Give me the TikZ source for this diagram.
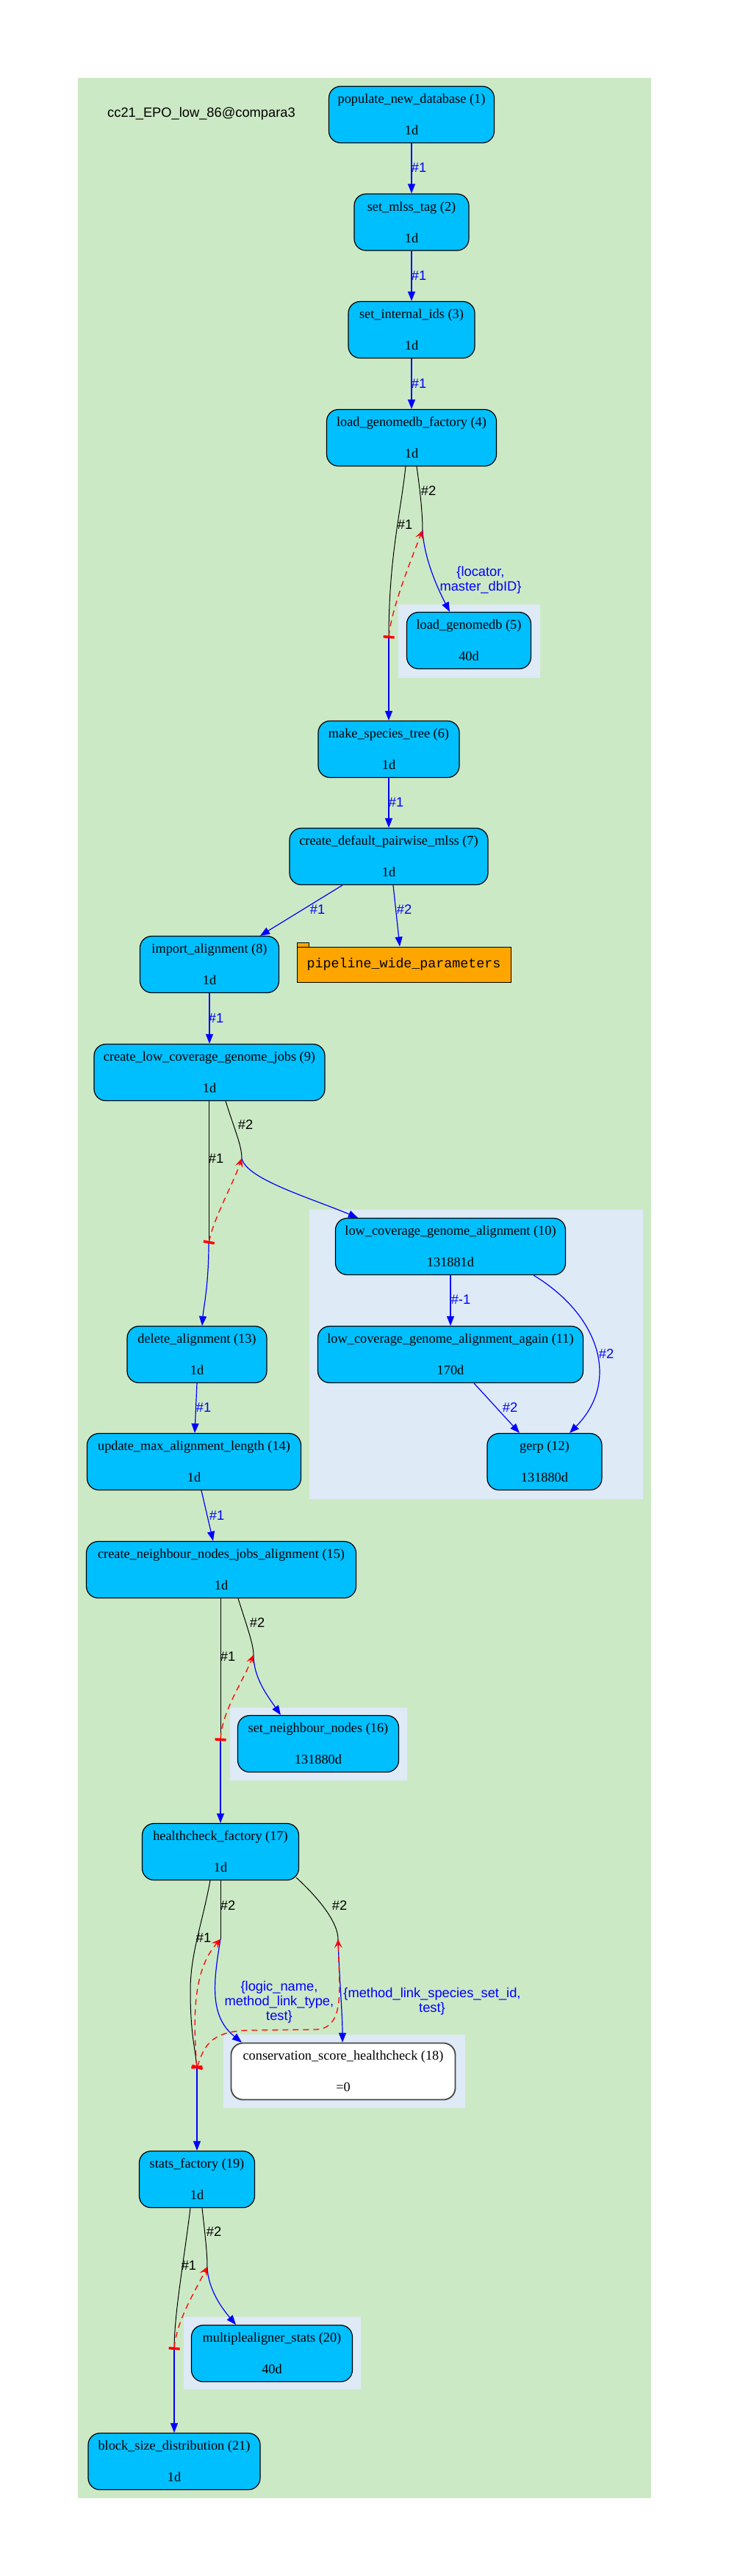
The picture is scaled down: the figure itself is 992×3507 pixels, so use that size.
\documentclass[tikz,border=0pt]{standalone}
\usepackage{fontspec}
\newfontfamily\serifjob{Liberation Serif}
\newfontfamily\sanslab{Liberation Sans}
\newfontfamily\monolab{Liberation Mono}
\usetikzlibrary{arrows.meta}
\newcommand{\jobfnt}{\serifjob\fontsize{18.3}{21.5}\selectfont}
\newcommand{\labfnt}{\sanslab\fontsize{18.3}{19.8}\selectfont}
\newcommand{\pwpfnt}{\monolab\fontsize{18.3}{21}\selectfont}
\definecolor{bggreen}{RGB}{204,233,197}
\definecolor{clblue}{RGB}{222,234,246}
\definecolor{jobblue}{RGB}{0,191,255}
\definecolor{pwporange}{RGB}{255,165,0}
\definecolor{hcborder}{RGB}{70,70,70}
\tikzset{
  job/.style={draw=black, line width=1.2pt, rounded corners=16pt, fill=jobblue,
    minimum height=77pt, inner sep=0pt, align=center, font=\jobfnt},
  jobwhite/.style={job, fill=white, draw=hcborder, line width=1.8pt},
  flow/.style={draw=blue, line width=1.2pt, -{Triangle[length=13pt,width=10pt]}},
  fanline/.style={draw=black, line width=1pt},
  sema/.style={draw=red, line width=1.3pt, dash pattern=on 8pt off 6pt,
    {Bar[width=15pt,line width=3.5pt]}-{Stealth[length=12pt,width=11pt,inset=5pt]}},
  blab/.style={text=blue, font=\labfnt, inner sep=0pt, align=center},
  klab/.style={text=black, font=\labfnt, inner sep=0pt},
}
\begin{document}
\begin{tikzpicture}[x=1pt,y=-1pt]
\useasboundingbox (0,0) rectangle (992,3507);
\fill[white] (0,0) rectangle (992,3507);
\fill[bggreen] (106,106) rectangle (886,3401);
% clusters
\fill[clblue] (542,823) rectangle (735,923);
\fill[clblue] (421,1647) rectangle (875,2041);
\fill[clblue] (313,2325) rectangle (554,2424);
\fill[clblue] (304,2770) rectangle (633,2870);
\fill[clblue] (250,3154) rectangle (491,3253);

\node[klab] (title) at (274,155) {cc21\_EPO\_low\_86@compara3};

% nodes
\node[job, minimum width=225pt] (n1) at (560,156) {populate\_new\_database (1)\\[21.5pt]1d};
\node[job, minimum width=156pt] (n2) at (560,302.5) {set\_mlss\_tag (2)\\[21.5pt]1d};
\node[job, minimum width=172pt] (n3) at (560,449) {set\_internal\_ids (3)\\[21.5pt]1d};
\node[job, minimum width=231pt] (n4) at (560,596) {load\_genomedb\_factory (4)\\[21.5pt]1d};
\node[job, minimum width=169pt] (n5) at (638,872) {load\_genomedb (5)\\[21.5pt]40d};
\node[job, minimum width=192pt] (n6) at (529,1020) {make\_species\_tree (6)\\[21.5pt]1d};
\node[job, minimum width=270pt] (n7) at (529,1166) {create\_default\_pairwise\_mlss (7)\\[21.5pt]1d};
\node[job, minimum width=189pt] (n8) at (285,1313) {import\_alignment (8)\\[21.5pt]1d};
\draw[fill=pwporange, line width=1pt] (404,1283) rectangle (420,1289);
\node[draw, fill=pwporange, line width=1pt, minimum width=291pt, minimum height=48pt,
  inner sep=0pt, font=\pwpfnt] (pwp) at (549.5,1313) {pipeline\_wide\_parameters};
\node[job, minimum width=314pt] (n9) at (285,1460) {create\_low\_coverage\_genome\_jobs (9)\\[21.5pt]1d};
\node[job, minimum width=313pt] (n10) at (613,1697) {low\_coverage\_genome\_alignment (10)\\[21.5pt]131881d};
\node[job, minimum width=361pt] (n11) at (613,1844) {low\_coverage\_genome\_alignment\_again (11)\\[21.5pt]170d};
\node[job, minimum width=156pt] (n12) at (741,1990) {gerp (12)\\[21.5pt]131880d};
\node[job, minimum width=190pt] (n13) at (268,1844) {delete\_alignment (13)\\[21.5pt]1d};
\node[job, minimum width=291pt] (n14) at (264,1990) {update\_max\_alignment\_length (14)\\[21.5pt]1d};
\node[job, minimum width=367pt] (n15) at (301,2137) {create\_neighbour\_nodes\_jobs\_alignment (15)\\[21.5pt]1d};
\node[job, minimum width=219pt] (n16) at (433,2374) {set\_neighbour\_nodes (16)\\[21.5pt]131880d};
\node[job, minimum width=213pt] (n17) at (300,2521) {healthcheck\_factory (17)\\[21.5pt]1d};
\node[jobwhite, minimum width=305pt] (n18) at (467,2820) {conservation\_score\_healthcheck (18)\\[21.5pt]=0};
\node[job, minimum width=157pt] (n19) at (268,2967) {stats\_factory (19)\\[21.5pt]1d};
\node[job, minimum width=219pt] (n20) at (370,3204) {multiplealigner\_stats (20)\\[21.5pt]40d};
\node[job, minimum width=234pt] (n21) at (237,3351) {block\_size\_distribution (21)\\[21.5pt]1d};

% simple edges
\draw[flow] (n1.south) -- (n2.north);
\node[blab] (e12) at (570,228) {\#1};
\draw[flow] (n2.south) -- (n3.north);
\node[blab] (e23) at (570,375) {\#1};
\draw[flow] (n3.south) -- (n4.north);
\node[blab] (e34) at (570,522) {\#1};

% fan from 4
\coordinate (j4a) at (529,869);
\coordinate (j4b) at (575,722);
\draw[fanline] ([xshift=-8pt]n4.south) .. controls (545,700) and (529,760) .. (j4a);
\node[klab] (f4a) at (551,714) {\#1};
\draw[fanline] ([xshift=7pt]n4.south) .. controls (572,670) and (575,700) .. (j4b);
\node[klab] (f4b) at (583,668) {\#2};
\draw[flow] (j4b) .. controls (577,760) and (595,800) .. ([xshift=-26pt]n5.north);
\node[blab] (e45) at (654,790) {\{locator,\\master\_dbID\}};
\draw[flow] (j4a) -- (n6.north);
\draw[sema] (j4a) .. controls (532,830) and (560,760) .. (j4b);

\draw[flow] (n6.south) -- (n7.north);
\node[blab] (e67) at (539,1092) {\#1};
\draw[flow] ([xshift=-63pt]n7.south) -- ([xshift=69pt]n8.north);
\node[blab] (e78) at (432,1238) {\#1};
\draw[flow] ([xshift=6pt]n7.south) -- ([xshift=-5.5pt]pwp.north);
\node[blab] (e7p) at (550,1238) {\#2};
\draw[flow] (n8.south) -- (n9.north);
\node[blab] (e89) at (294,1386) {\#1};

% fan from 9
\coordinate (j9a) at (284,1693);
\coordinate (j9b) at (329,1577);
\draw[fanline] ([xshift=-1pt]n9.south) -- (j9a);
\node[klab] (f9a) at (294,1577) {\#1};
\draw[fanline] ([xshift=22pt]n9.south) .. controls (320,1540) and (329,1560) .. (j9b);
\node[klab] (f9b) at (334,1531) {\#2};
\draw[flow] (j9b) .. controls (335,1605) and (420,1630) .. ([xshift=-126pt]n10.north);
\draw[flow] (j9a) .. controls (284,1750) and (277,1780) .. ([xshift=7pt]n13.north);
\draw[sema] (j9a) .. controls (290,1660) and (318,1610) .. (j9b);

% cluster 2 edges
\draw[flow] (n10.south) -- (n11.north);
\node[blab] (e1011) at (627,1769) {\#-1};
\draw[flow] ([xshift=113pt]n10.south) .. controls (815,1790) and (845,1880) .. ([xshift=34pt]n12.north);
\node[blab] (e1012) at (825,1843) {\#2};
\draw[flow] ([xshift=32pt]n11.south) -- ([xshift=-34pt]n12.north);
\node[blab] (e1112) at (694,1916) {\#2};

\draw[flow] (n13.south) -- ([xshift=1pt]n14.north);
\node[blab] (e1314) at (277,1916) {\#1};
\draw[flow] ([xshift=10pt]n14.south) -- ([xshift=-11pt]n15.north);
\node[blab] (e1415) at (295,2063) {\#1};

% fan from 15
\coordinate (j15a) at (300,2370);
\coordinate (j15b) at (345,2253);
\draw[fanline] ([xshift=-1pt]n15.south) -- (j15a);
\node[klab] (f15a) at (310,2255) {\#1};
\draw[fanline] ([xshift=23pt]n15.south) .. controls (338,2220) and (345,2240) .. (j15b);
\node[klab] (f15b) at (350,2209) {\#2};
\draw[flow] (j15b) .. controls (345,2285) and (365,2310) .. ([xshift=-51pt]n16.north);
\draw[flow] (j15a) -- (n17.north);
\draw[sema] (j15a) .. controls (302,2330) and (330,2290) .. (j15b);

% fan from 17
\coordinate (j17a) at (268,2816);
\coordinate (j17b) at (300,2640);
\coordinate (j17c) at (460,2640);
\draw[fanline] ([xshift=-14pt]n17.south) .. controls (275,2620) and (259,2660) .. (259,2710)
  .. controls (259,2770) and (266,2790) .. (j17a);
\node[klab] (f17a) at (277,2638) {\#1};
\draw[fanline] (n17.south) -- (j17b);
\node[klab] (f17b) at (310,2594) {\#2};
\draw[fanline] ([xshift=-4pt,yshift=4pt]n17.south east) .. controls (440,2590) and (460,2620) .. (j17c);
\node[klab] (f17c) at (462,2594) {\#2};
\draw[flow] (j17b) .. controls (290,2700) and (285,2745) .. ([xshift=-138pt]n18.north);
\node[blab] (e1718a) at (380,2726) {\{logic\_name,\\method\_link\_type,\\test\}};
\draw[flow] (j17c) .. controls (462,2700) and (466,2740) .. ([xshift=-1pt]n18.north);
\node[blab] (e1718b) at (588,2725) {\{method\_link\_species\_set\_id,\\test\}};
\draw[flow] (j17a) -- (n19.north);
\draw[sema] (j17a) .. controls (262,2740) and (264,2680) .. (j17b);
\draw[sema] (j17a) .. controls (278,2782) and (290,2765) .. (340,2764) -- (430,2763)
  .. controls (460,2762) and (462,2730) .. (462,2700) -- (j17c);

% fan from 19
\coordinate (j19a) at (237,3199);
\coordinate (j19b) at (282,3086);
\draw[fanline] ([xshift=-9pt]n19.south) .. controls (250,3080) and (237,3150) .. (j19a);
\node[klab] (f19a) at (257,3084) {\#1};
\draw[fanline] ([xshift=7pt]n19.south) .. controls (280,3050) and (282,3070) .. (j19b);
\node[klab] (f19b) at (291,3038) {\#2};
\draw[flow] (j19b) .. controls (283,3115) and (300,3140) .. ([xshift=-49pt]n20.north);
\draw[flow] (j19a) -- (n21.north);
\draw[sema] (j19a) .. controls (240,3160) and (265,3120) .. (j19b);
\end{tikzpicture}
\end{document}
